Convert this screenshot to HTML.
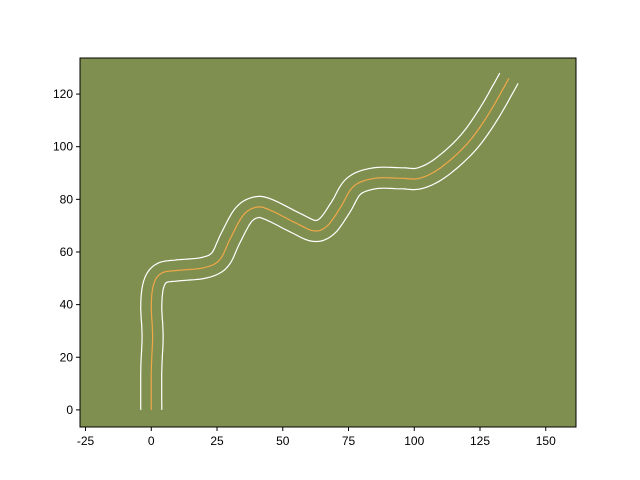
<!DOCTYPE html>
<html><head><meta charset="utf-8"><style>
body{margin:0;background:#fff;}
svg{display:block;font-family:"Liberation Sans",sans-serif;}
</style></head><body>
<svg id="chart" width="640" height="480"></svg>
<script>
const centerX=[0,0,0.5,0,1,4,10,20,26,30,35,40,45,55,62,67,72,77,85,95,102,110,120,128,136];
const centerY=[0,15,28,40,48,52,53,54,57,65,74,77,76,71,68,70,77,85,88,88,88,92,101,112,126];
const halfWidth=[4];
const xTicks=[-25,0,25,50,75,100,125,150];
const yTicks=[0,20,40,60,80,100,120];
const L=80,R=576,T=58,B=427,xmin=-27.1,xmax=161.5,ymin=-6.5,ymax=133.7;
const sx=v=>L+(v-xmin)/(xmax-xmin)*(R-L);
const sy=v=>B-(v-ymin)/(ymax-ymin)*(B-T);
const NS='http://www.w3.org/2000/svg';
const svg=document.getElementById('chart');
function mk(t,a){const e=document.createElementNS(NS,t);for(const k in a)e.setAttribute(k,a[k]);svg.appendChild(e);return e;}
const bg=mk('rect',{x:L,y:T,width:R-L,height:B-T,fill:'#7f8f50'});


// smooth via Catmull-Rom
const pts=[];
const n=centerX.length;
for(let i=0;i<n-1;i++){
  const p0=[centerX[Math.max(i-1,0)],centerY[Math.max(i-1,0)]],p1=[centerX[i],centerY[i]],p2=[centerX[i+1],centerY[i+1]],p3=[centerX[Math.min(i+2,n-1)],centerY[Math.min(i+2,n-1)]];
  for(let s=0;s<10;s++){const t=s/10,t2=t*t,t3=t2*t;
    const f=k=>0.5*((2*p1[k])+(-p0[k]+p2[k])*t+(2*p0[k]-5*p1[k]+4*p2[k]-p3[k])*t2+(-p0[k]+3*p1[k]-3*p2[k]+p3[k])*t3);
    pts.push([f(0),f(1)]);}
}
pts.push([centerX[n-1],centerY[n-1]]);
function offset(sign){
  return pts.map((p,i)=>{const a=pts[Math.max(i-1,0)],b=pts[Math.min(i+1,pts.length-1)];
    let dx=b[0]-a[0],dy=b[1]-a[1];const l=Math.hypot(dx,dy)||1;
    return [p[0]-sign*dy/l*halfWidth[0],p[1]+sign*dx/l*halfWidth[0]];});
}
const d=arr=>arr.map((p,i)=>(i?'L':'M')+sx(p[0]).toFixed(1)+','+sy(p[1]).toFixed(1)).join('');
const le=mk('path',{d:d(offset(1)),fill:'none',stroke:'#fff','stroke-width':1.2});


const re=mk('path',{d:d(offset(-1)),fill:'none',stroke:'#fff','stroke-width':1.2});


const cl=mk('path',{d:d(pts),fill:'none',stroke:'#f0a848','stroke-width':1.2});


const fr=mk('rect',{x:L,y:T,width:R-L,height:B-T,fill:'none',stroke:'#000','stroke-width':1});


xTicks.forEach(v=>{const x=sx(v);
  const tk=mk('line',{x1:x,x2:x,y1:B,y2:B+4,stroke:'#000'});
  
  
  const tx=mk('text',{x:x,y:B+18,'font-size':12,'text-anchor':'middle'});tx.textContent=v;
  
  
});
yTicks.forEach(v=>{const y=sy(v);
  const tk=mk('line',{x1:L-4,x2:L,y1:y,y2:y,stroke:'#000'});
  
  
  const tx=mk('text',{x:L-7,y:y+4,'font-size':12,'text-anchor':'end'});tx.textContent=v;
  
  
});
</script>
</body></html>
